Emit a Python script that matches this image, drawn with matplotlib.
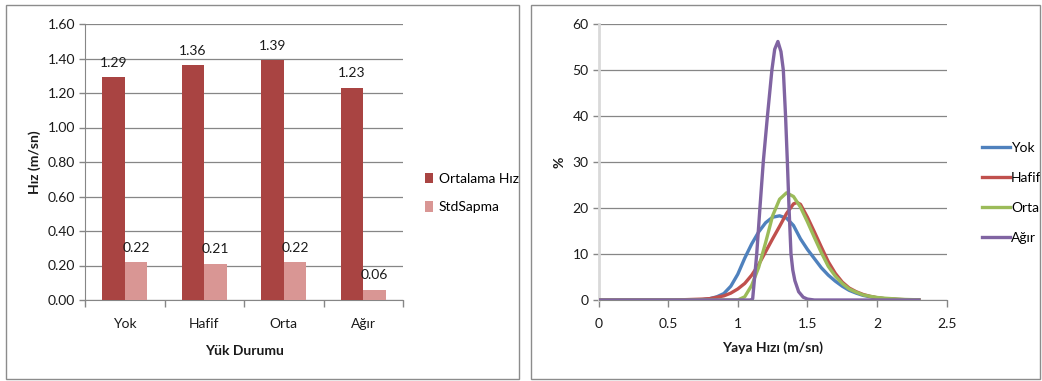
import matplotlib
matplotlib.use("Agg")
import matplotlib.pyplot as plt
from matplotlib.patches import Rectangle
import numpy as np

plt.rcParams['font.family'] = ['Lato', 'DejaVu Sans']

# ---- Left panel: mean speed and standard deviation per load condition ----
categories = ["Yok", "Hafif", "Orta", "Ağır"]
ortalama_hiz = [1.29, 1.36, 1.39, 1.23]
std_sapma = [0.22, 0.21, 0.22, 0.06]
bar_ticks = [0.0, 0.2, 0.4, 0.6, 0.8, 1.0, 1.2, 1.4, 1.6]

# ---- Right panel: speed distributions (%) ----
x_grid = [0.00, 0.05, 0.10, 0.15, 0.20, 0.25, 0.30, 0.35, 0.40, 0.45, 0.50,
          0.55, 0.60, 0.65, 0.70, 0.75, 0.80, 0.85, 0.90, 0.95, 1.00,
          1.05, 1.10, 1.15, 1.20, 1.25, 1.30, 1.35, 1.40, 1.45, 1.50,
          1.55, 1.60, 1.65, 1.70, 1.75, 1.80, 1.85, 1.90, 1.95, 2.00,
          2.05, 2.10, 2.15, 2.20, 2.25, 2.30]
yok = [0, 0, 0, 0, 0, 0, 0, 0, 0, 0, 0,
       0, 0, 0, 0, 0.1, 0.3, 0.7, 1.4, 3.0, 5.6,
       9.1, 12.2, 14.8, 16.8, 18.0, 18.3, 17.8, 16.2, 13.3, 11.0,
       9.0, 7.0, 5.4, 4.1, 3.0, 2.1, 1.5, 1.0, 0.7, 0.45,
       0.3, 0.2, 0.1, 0.05, 0.02, 0]
hafif = [0, 0, 0, 0, 0, 0, 0, 0, 0, 0, 0,
         0, 0.05, 0.1, 0.15, 0.2, 0.3, 0.6, 0.9, 1.5, 2.4,
         3.6, 5.4, 7.7, 10.5, 13.3, 16.0, 18.8, 20.9, 20.8, 18.0,
         14.8, 11.5, 8.3, 5.8, 3.9, 2.6, 1.8, 1.2, 0.8, 0.5,
         0.3, 0.2, 0.12, 0.07, 0.04, 0.02]
orta = [0, 0, 0, 0, 0, 0, 0, 0, 0, 0, 0,
        0, 0, 0, 0, 0, 0, 0, 0, 0, 0,
        0.7, 3.2, 7.1, 12.5, 18.3, 21.9, 23.3, 22.5, 20.2, 17.0,
        13.6, 10.3, 7.3, 5.2, 3.6, 2.4, 1.7, 1.1, 0.8, 0.55,
        0.4, 0.3, 0.2, 0.12, 0.08, 0.05]
hafif_peak_x = [1.425]
hafif_peak_y = [21.2]

agir_x = [0.00, 0.50, 1.00, 1.10, 1.107, 1.136, 1.159, 1.183, 1.213, 1.245,
          1.265, 1.288, 1.310, 1.327, 1.343, 1.356, 1.368, 1.382, 1.395,
          1.410, 1.437, 1.470, 1.500, 1.550, 2.00, 2.30]
agir_y = [0, 0, 0, 0, 0.3, 10, 20, 30, 40, 50,
          54.5, 56.2, 54.0, 50, 40, 30, 20, 10, 6.5,
          4.2, 1.8, 0.6, 0.2, 0, 0, 0]

dist_xticks = [0, 0.5, 1, 1.5, 2, 2.5]
dist_xticklabels = ["0", "0.5", "1", "1.5", "2", "2.5"]
dist_yticks = [0, 10, 20, 30, 40, 50, 60]

W, H = 1042, 381
fig = plt.figure(figsize=(W / 100, H / 100), dpi=100)

GRID = '#868686'
TXT = '#1a1a1a'
FS = 10

def fx(px):
    return px / W

def fy(py):
    return 1 - py / H

# panel frames
for x0, x1 in [(6, 519), (531, 1040)]:
    fig.patches.append(Rectangle((fx(x0), fy(379)), fx(x1 - x0), (379 - 5) / H,
                                 transform=fig.transFigure, fill=False,
                                 edgecolor='#8c8c8c', linewidth=1.0))

# ================= bar chart =================
ax1 = fig.add_axes([fx(85), fy(300), fx(403 - 85), (300 - 24) / H])
pos = np.arange(len(categories))
bw = 0.283
b1 = ax1.bar(pos - bw / 2, ortalama_hiz, bw, color='#A94442', label='Ortalama Hız', zorder=3)
b2 = ax1.bar(pos + bw / 2, std_sapma, bw, color='#D99694', label='StdSapma', zorder=3)
ax1.bar_label(b1, fmt='%.2f', padding=6, fontsize=FS, color=TXT)
ax1.bar_label(b2, fmt='%.2f', padding=6, fontsize=FS, color=TXT)

ax1.set_xlim(-0.5, len(categories) - 0.5)
ax1.set_ylim(0, 1.6)
ax1.set_yticks(bar_ticks)
ax1.set_yticklabels([f"{v:.2f}" for v in bar_ticks], fontsize=FS, color=TXT)
ax1.set_xticks(pos)
ax1.set_xticklabels(categories, fontsize=FS, color=TXT)
ax1.set_xticks(np.arange(-0.5, len(categories), 1.0), minor=True)
ax1.tick_params(axis='x', which='major', length=0, pad=13)
ax1.tick_params(axis='x', which='minor', length=5, color=GRID, width=1)
ax1.tick_params(axis='y', length=4, color=GRID, width=1, pad=3)
ax1.yaxis.grid(True, color=GRID, linewidth=0.9, zorder=0)
ax1.set_axisbelow(True)
for s in ['top', 'right']:
    ax1.spines[s].set_visible(False)
ax1.spines['left'].set_color(GRID)
ax1.spines['bottom'].set_color(GRID)
ax1.set_ylabel('Hız (m/sn)', fontsize=FS, fontweight='bold', color=TXT, labelpad=5)
ax1.set_xlabel('Yük Durumu', fontsize=FS, fontweight='bold', color=TXT, labelpad=11)
ax1.legend(loc='center left', bbox_to_anchor=(fx(418), fy(193)), bbox_transform=fig.transFigure,
           frameon=False, fontsize=FS, handlelength=0.6, handleheight=0.8,
           handletextpad=0.4, labelspacing=1.2, borderpad=0)

# ================= distribution chart =================
ax2 = fig.add_axes([fx(598.5), fy(300), fx(946.7 - 598.5), (300 - 24) / H])
hafif_x = sorted(x_grid + hafif_peak_x)
hafif_y = [dict(zip(x_grid + hafif_peak_x, hafif + hafif_peak_y))[v] for v in hafif_x]
lw = 2.4
ax2.plot(x_grid, yok, color='#4F81BD', lw=lw, label='Yok', solid_joinstyle='round', zorder=3)
ax2.plot(hafif_x, hafif_y, color='#C0504D', lw=lw, label='Hafif', solid_joinstyle='round', zorder=3)
ax2.plot(x_grid, orta, color='#9BBB59', lw=lw, label='Orta', solid_joinstyle='round', zorder=3)
ax2.plot(agir_x, agir_y, color='#8064A2', lw=lw, label='Ağır', solid_joinstyle='round', zorder=3)

ax2.set_xlim(0, 2.5)
ax2.set_ylim(0, 60)
ax2.set_xticks(dist_xticks)
ax2.set_xticklabels(dist_xticklabels, fontsize=FS, color=TXT)
ax2.set_yticks(dist_yticks)
ax2.set_yticklabels([str(v) for v in dist_yticks], fontsize=FS, color=TXT)
ax2.tick_params(axis='x', length=5, color=GRID, width=1, pad=8)
ax2.tick_params(axis='y', length=4, color=GRID, width=1, pad=3)
ax2.yaxis.grid(True, color=GRID, linewidth=0.9, zorder=0)
ax2.set_axisbelow(True)
for s in ['top', 'right']:
    ax2.spines[s].set_visible(False)
ax2.spines['left'].set_color('#d9d9d9')
ax2.spines['left'].set_linewidth(2)
ax2.spines['bottom'].set_color(GRID)
ax2.set_ylabel('%', fontsize=FS, fontweight='bold', color=TXT, labelpad=5)
ax2.set_xlabel('Yaya Hızı (m/sn)', fontsize=FS, fontweight='bold', color=TXT, labelpad=8)
ax2.legend(loc='center left', bbox_to_anchor=(fx(975), fy(193)), bbox_transform=fig.transFigure,
           frameon=False, fontsize=FS, handlelength=2.0, handletextpad=0.1,
           labelspacing=1.3, borderpad=0)

fig.savefig('out.png', dpi=100)
